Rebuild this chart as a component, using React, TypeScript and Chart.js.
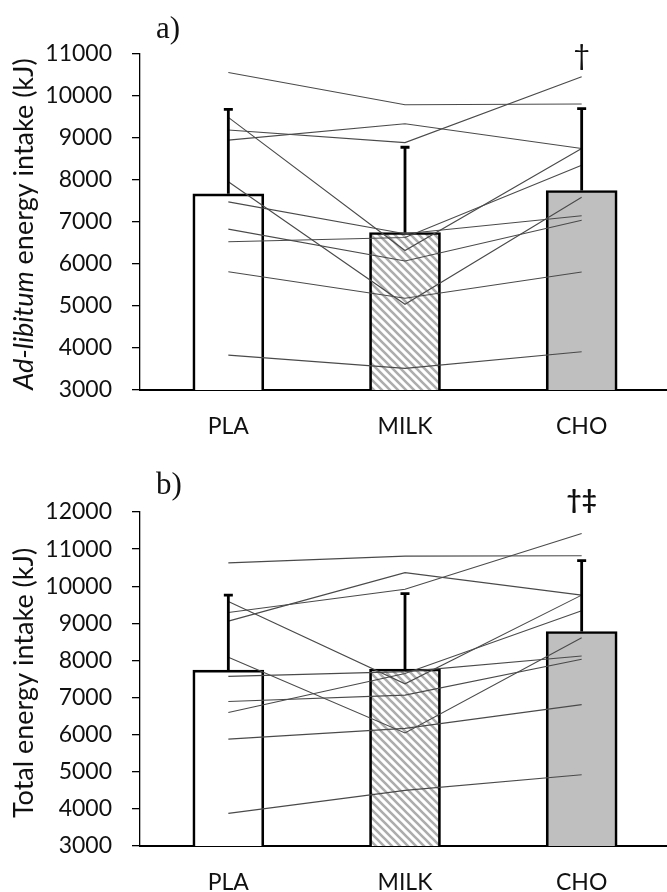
import React, { useEffect, useRef } from 'react';
import { Chart, registerables } from 'chart.js';
Chart.register(...registerables);

// ---------- data ----------
const categories = ['PLA', 'MILK', 'CHO'];

// a) ad-libitum energy intake (kJ)
const adLibMeans = [7670, 6750, 7750];
const adLibSD = [2010, 2030, 1950];
const adLibTicks = { min: 3000, max: 11000, step: 1000 };
const adLibSubjects = [
  [10560, 9790, 9810],
  [9190, 8890, 10460],
  [8950, 9340, 8750],
  [9490, 6320, 8750],
  [7960, 5040, 7590],
  [7480, 6720, 7150],
  [6530, 6630, 8350],
  [6830, 6070, 7040],
  [5815, 5185, 5810],
  [3830, 3515, 3910],
];
const adLibMarker = '\u2020';

// b) total energy intake (kJ)
const totalMeans = [7740, 7770, 8780];
const totalSD = [2020, 2030, 1910];
const totalTicks = { min: 3000, max: 12000, step: 1000 };
const totalSubjects = [
  [10630, 10810, 10820],
  [9290, 9920, 11420],
  [9060, 10365, 9760],
  [9590, 7370, 9760],
  [8085, 6045, 8610],
  [7570, 7700, 8120],
  [6595, 7650, 9340],
  [6895, 7065, 8030],
  [5880, 6170, 6810],
  [3878, 4500, 4920],
];
const totalMarker = '\u2020\u2021';

const FONT = 'Lato, "Open Sans", sans-serif';

function makeHatch(): CanvasPattern | string {
  const s = 8;
  const c = document.createElement('canvas');
  c.width = s;
  c.height = s;
  const g = c.getContext('2d');
  if (!g) return '#ddd';
  g.fillStyle = '#ffffff';
  g.fillRect(0, 0, s, s);
  g.strokeStyle = '#adadad';
  g.lineWidth = 2.6;
  g.beginPath();
  g.moveTo(-1, -1);
  g.lineTo(s + 1, s + 1);
  g.moveTo(-1, s - 1);
  g.lineTo(1, s + 1);
  g.moveTo(s - 1, -1);
  g.lineTo(s + 1, 1);
  g.stroke();
  const p = g.createPattern(c, 'repeat');
  return p || '#ddd';
}

type Cfg = {
  means: number[];
  sd: number[];
  subjects: number[][];
  ticks: { min: number; max: number; step: number };
  marker: string;
  markerFont: string;
  markerY: number;
  panel: string;
  panelY: number;
  titleParts: { text: string; italic: boolean }[];
  titleY: number;
  padTop: number;
  xH: number;
};

function buildChart(canvas: HTMLCanvasElement, cfg: Cfg) {
  const hatch = makeHatch();

  const overlay = {
    id: 'overlay',
    afterDatasetsDraw(chart: any) {
      const ctx = chart.ctx as CanvasRenderingContext2D;
      const xs = chart.scales.x;
      const ys = chart.scales.y;
      ctx.save();
      ctx.strokeStyle = '#000';
      ctx.lineWidth = 2.8;
      ctx.lineCap = 'butt';
      cfg.means.forEach((m, i) => {
        const x = xs.getPixelForValue(i);
        const y0 = ys.getPixelForValue(m);
        const y1 = ys.getPixelForValue(m + cfg.sd[i]);
        ctx.beginPath();
        ctx.moveTo(x, y0);
        ctx.lineTo(x, y1);
        ctx.moveTo(x - 4.5, y1);
        ctx.lineTo(x + 4.5, y1);
        ctx.stroke();
      });
      ctx.restore();
    },
    afterDraw(chart: any) {
      const ctx = chart.ctx as CanvasRenderingContext2D;
      const xs = chart.scales.x;
      ctx.save();
      ctx.fillStyle = '#111';
      // significance marker above CHO
      ctx.font = cfg.markerFont;
      ctx.textAlign = 'center';
      ctx.textBaseline = 'middle';
      ctx.fillText(cfg.marker, xs.getPixelForValue(2), cfg.markerY);
      // panel letter
      ctx.font = '31px "Liberation Serif", "DejaVu Serif", serif';
      ctx.textAlign = 'left';
      ctx.textBaseline = 'alphabetic';
      ctx.fillText(cfg.panel, 156, cfg.panelY);
      // rotated y title with mixed styles
      ctx.textBaseline = 'middle';
      const fonts = cfg.titleParts.map((p) => (p.italic ? 'italic ' : '') + '27px ' + FONT);
      let total = 0;
      const widths = cfg.titleParts.map((p, i) => {
        ctx.font = fonts[i];
        const w = ctx.measureText(p.text).width;
        total += w;
        return w;
      });
      ctx.translate(24, cfg.titleY);
      ctx.rotate(-Math.PI / 2);
      let x = -total / 2;
      cfg.titleParts.forEach((p, i) => {
        ctx.font = fonts[i];
        ctx.fillText(p.text, x, 0);
        x += widths[i];
      });
      ctx.restore();
    },
  };

  return new Chart(canvas, {
    type: 'bar',
    data: {
      labels: categories,
      datasets: [
        {
          type: 'bar',
          data: cfg.means,
          backgroundColor: ['#ffffff', hatch as any, '#bfbfbf'],
          borderColor: '#000',
          borderWidth: 2.7,
          borderSkipped: false,
          barThickness: 71,
          order: 10,
        } as any,
        ...cfg.subjects.map((s) => ({
          type: 'line',
          data: s,
          borderColor: '#4a4a4a',
          borderWidth: 1.1,
          pointRadius: 0,
          fill: false,
          tension: 0,
          order: 1,
        })),
      ],
    },
    options: {
      responsive: false,
      animation: false,
      devicePixelRatio: 1,
      layout: { padding: { top: cfg.padTop, right: 1, left: 0, bottom: 0 } },
      plugins: { legend: { display: false }, tooltip: { enabled: false } },
      scales: {
        x: {
          offset: true,
          grid: { display: false, drawTicks: false },
          border: { display: true, color: '#000', width: 2 },
          ticks: { font: { family: FONT, size: 23 }, color: '#111', padding: 23 },
          afterFit: (s: any) => {
            s.height = cfg.xH;
          },
        },
        y: {
          min: cfg.ticks.min,
          max: cfg.ticks.max,
          ticks: {
            stepSize: cfg.ticks.step,
            font: { family: FONT, size: 23 },
            color: '#111',
            padding: 20,
            callback: (v: any) => String(v),
          },
          grid: { drawOnChartArea: false, drawTicks: true, tickLength: 8, color: '#000', lineWidth: 1.3 },
          border: { display: true, color: '#000', width: 1.3 },
          afterFit: (s: any) => {
            s.width = 140;
          },
        },
      },
    } as any,
    plugins: [overlay],
  });
}

function Panel({ cfg, top }: { cfg: Cfg; top: number }) {
  const ref = useRef<HTMLCanvasElement>(null);
  useEffect(() => {
    if (!ref.current) return;
    const ch = buildChart(ref.current, cfg);
    return () => ch.destroy();
  }, []);
  return (
    <canvas
      ref={ref}
      width={671}
      height={446}
      style={{ position: 'absolute', left: 0, top, width: 671, height: 446 }}
    />
  );
}

const cfgA: Cfg = {
  means: adLibMeans,
  sd: adLibSD,
  subjects: adLibSubjects,
  ticks: adLibTicks,
  marker: adLibMarker,
  markerFont: '29px ' + FONT,
  markerY: 56,
  panel: 'a)',
  panelY: 38,
  titleParts: [
    { text: 'Ad-libitum', italic: true },
    { text: ' energy intake (kJ)', italic: false },
  ],
  titleY: 224,
  padTop: 54,
  xH: 56,
};

const cfgB: Cfg = {
  means: totalMeans,
  sd: totalSD,
  subjects: totalSubjects,
  ticks: totalTicks,
  marker: totalMarker,
  markerFont: 'bold 26px ' + FONT,
  markerY: 55,
  panel: 'b)',
  panelY: 48,
  titleParts: [{ text: 'Total energy intake (kJ)', italic: false }],
  titleY: 237,
  padTop: 66,
  xH: 46,
};

export default function App() {
  return (
    <div
      style={{
        position: 'fixed',
        left: 0,
        top: 0,
        width: 667,
        height: 892,
        overflow: 'hidden',
        background: '#fff',
      }}
    >
      <Panel cfg={cfgA} top={0} />
      <Panel cfg={cfgB} top={446} />
    </div>
  );
}
